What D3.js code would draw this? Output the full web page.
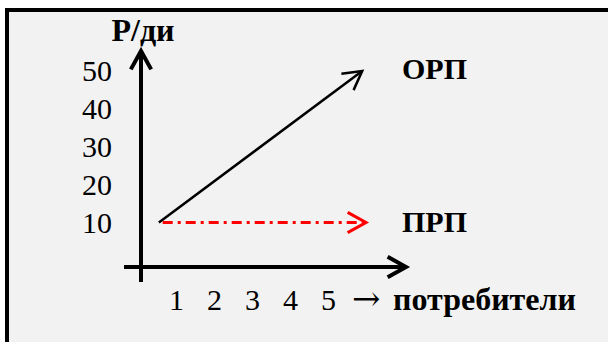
<html>
<head>
<meta charset="utf-8">
<title>ОРП и ПРП</title>
<style>
  body { margin: 0; background: #fff; }
  text { font-family: "Liberation Serif", "Times New Roman", serif; fill: #000; }
</style>
</head>
<body>
<div id="svghere"></div>
<script src="https://d3js.org/d3.v7.min.js"></script>
<script>
// data
var consumers = [1, 2, 3, 4, 5];
var priceTicks = [10, 20, 30, 40, 50];
var orpLine = [{c: 0.55, p: 10}, {c: 5.9, p: 50}];   // общие расходы
var prpLine = [{c: 0.65, p: 10}, {c: 6.0, p: 10}];   // расходы на одного
var yLabel = "Р/ди";
var xLabel = "потребители";
var seriesNames = ["ОРП", "ПРП"];

var W = 608, H = 343;
var svg = d3.select("#svghere")
    .append('svg')
    .attr('width', W)
    .attr('height', H);

// frame
svg.append('rect')
    .attr('x', 5).attr('y', 8)
    .attr('width', W + 10).attr('height', H - 9)
    .attr('fill', '#f2f2f2');
svg.append('path')
    .attr('d', 'M7,' + (H - 1) + ' L7,10 L' + (W + 5) + ',10')
    .attr('fill', 'none')
    .attr('stroke', '#000')
    .attr('stroke-width', 4);

var x = d3.scaleLinear().domain([1, 5]).range([176, 328]);
var y = d3.scaleLinear().domain([10, 50]).range([222.5, 71]);

var x0 = 141, y0 = 267;

// chevron head at tip, pointing along (dx,dy)
function head(g, tip, dx, dy, color, sw) {
    var a = Math.atan2(-dy, -dx), len = 21, h = 29 * Math.PI / 180;
    var p1 = [tip[0] + len * Math.cos(a + h), tip[1] + len * Math.sin(a + h)];
    var p2 = [tip[0] + len * Math.cos(a - h), tip[1] + len * Math.sin(a - h)];
    g.append('path')
        .attr('d', 'M' + p1 + 'L' + tip + 'L' + p2)
        .attr('fill', 'none')
        .attr('stroke', color)
        .attr('stroke-width', sw)
        .attr('stroke-linejoin', 'miter');
}

// axes lines
var axes = svg.append('g');
axes.append('line')
    .attr('x1', x0).attr('y1', 282).attr('x2', x0).attr('y2', 52)
    .attr('stroke', '#000').attr('stroke-width', 4);
head(axes, [x0, 51], 0, -1, '#000', 4);
axes.append('line')
    .attr('x1', 124).attr('y1', y0).attr('x2', 405).attr('y2', y0)
    .attr('stroke', '#000').attr('stroke-width', 4);
head(axes, [406, y0], 1, 0, '#000', 4);

// tick labels via d3 axes
var yAxis = svg.append('g')
    .attr('transform', 'translate(' + x0 + ',0)')
    .call(d3.axisLeft(y).tickValues(priceTicks).tickSize(0).tickPadding(29).tickFormat(d3.format('d')));
var xAxis = svg.append('g')
    .attr('transform', 'translate(0,' + y0 + ')')
    .call(d3.axisBottom(x).tickValues(consumers).tickSize(0).tickPadding(21.5).tickFormat(d3.format('d')));
[yAxis, xAxis].forEach(function(g) {
    g.select('.domain').remove();
    g.attr('font-family', null).attr('font-size', null);
    g.selectAll('text').style('font-size', '30px').attr('fill', '#000');
});

// series
var line = d3.line().x(function(d) { return x(d.c); }).y(function(d) { return y(d.p); });

svg.append('path')
    .datum(orpLine)
    .attr('d', line)
    .attr('fill', 'none')
    .attr('stroke', '#000')
    .attr('stroke-width', 2.5);
var o0 = orpLine[0], o1 = orpLine[1];
head(svg, [x(o1.c), y(o1.p)], x(o1.c) - x(o0.c), y(o1.p) - y(o0.p), '#000', 2.5);

svg.append('path')
    .datum(prpLine)
    .attr('d', line)
    .attr('fill', 'none')
    .attr('stroke', '#ff0000')
    .attr('stroke-width', 3)
    .attr('stroke-dasharray', '10,5,3,5');
var r0 = prpLine[0], r1 = prpLine[1];
head(svg, [x(r1.c), y(r1.p)], x(r1.c) - x(r0.c), 0, '#ff0000', 3);

// labels
svg.append('text')
    .attr('x', 143).attr('y', 41)
    .attr('text-anchor', 'middle')
    .style('font-size', '32px').style('font-weight', 'bold')
    .text(yLabel);

svg.append('text')
    .attr('x', 402).attr('y', 79)
    .style('font-size', '30px').style('font-weight', 'bold')
    .text(seriesNames[0]);
svg.append('text')
    .attr('x', 402).attr('y', 232)
    .style('font-size', '30px').style('font-weight', 'bold')
    .text(seriesNames[1]);

svg.append('text')
    .attr('x', 352).attr('y', 310)
    .style('font-family', '"DejaVu Serif", serif')
    .style('font-size', '34px')
    .text('→');
svg.append('text')
    .attr('x', 393).attr('y', 310)
    .style('font-size', '32px').style('font-weight', 'bold')
    .text(xLabel);
</script>
</body>
</html>
